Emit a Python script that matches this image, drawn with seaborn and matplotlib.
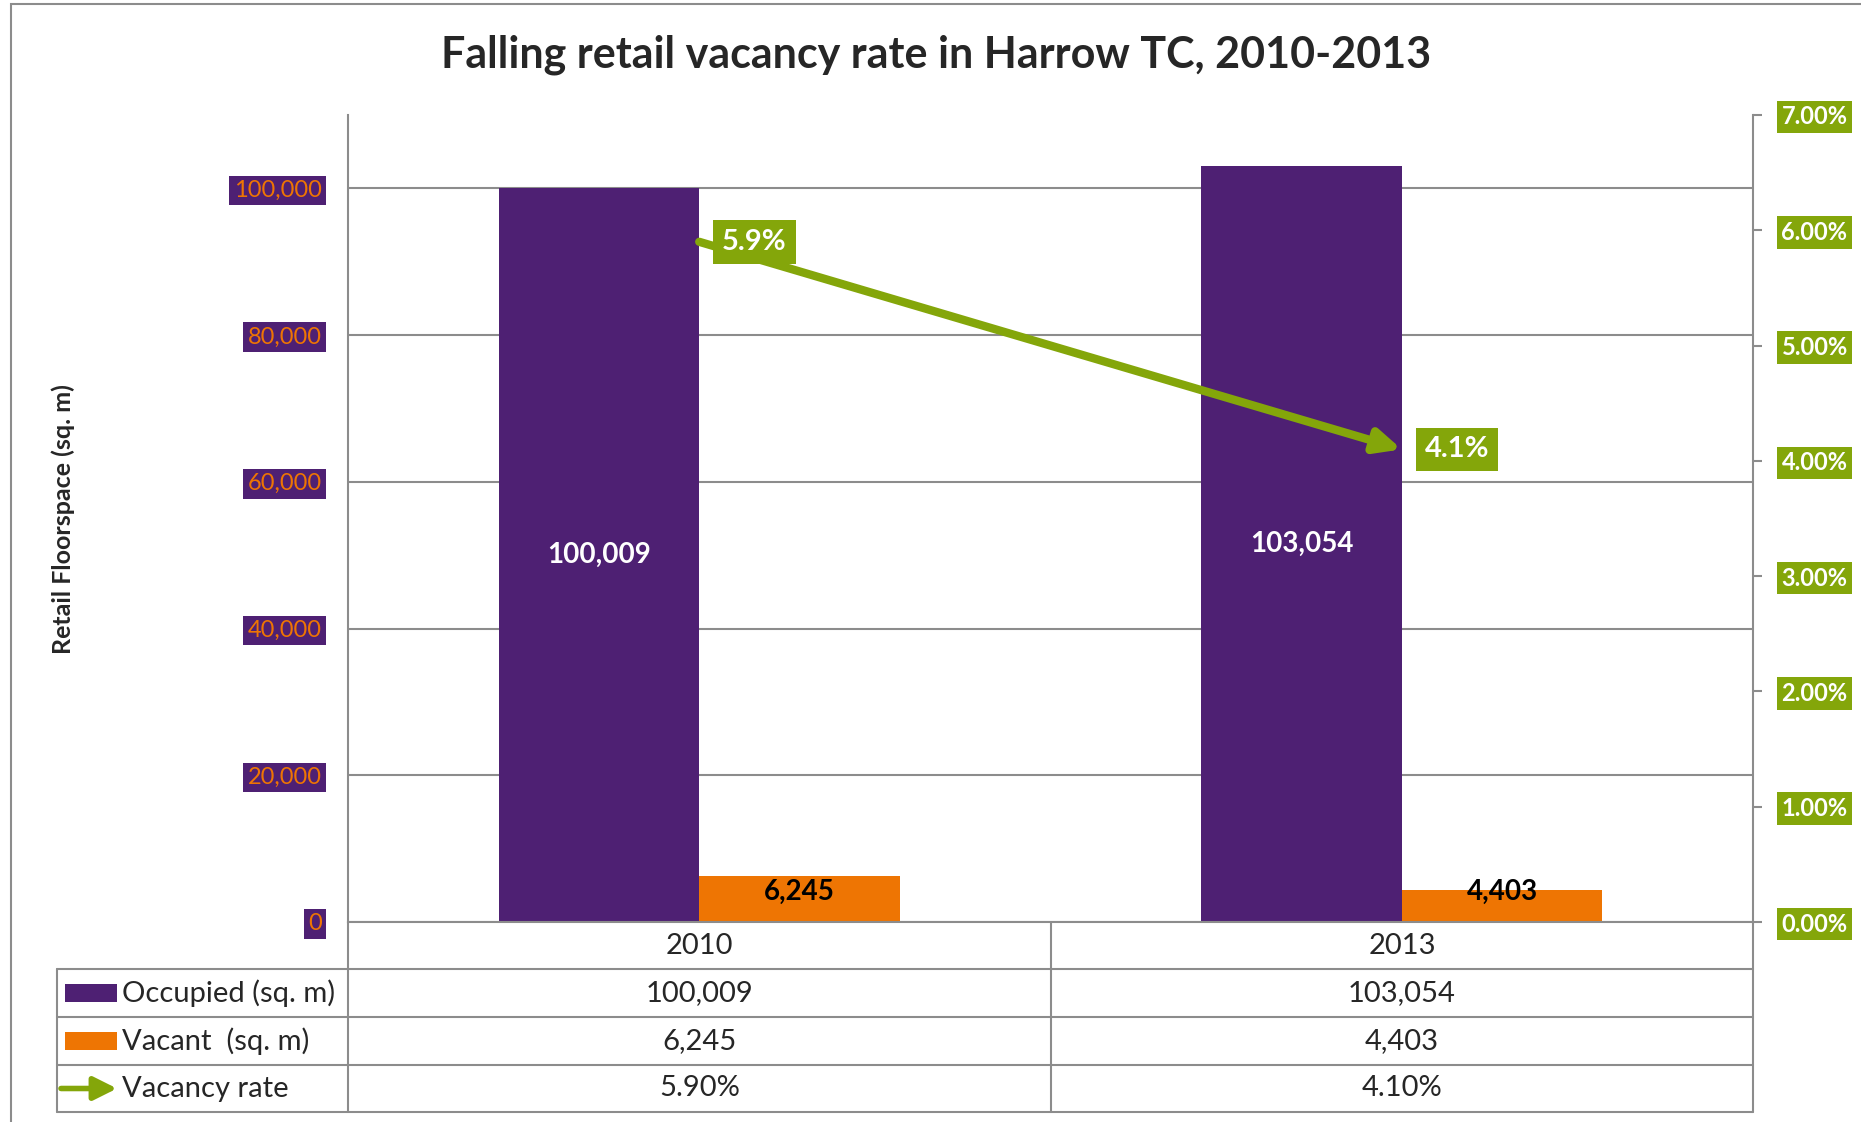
import pandas as pd
import numpy as np
import matplotlib.pyplot as plt
import seaborn as sns
from matplotlib.patches import Rectangle
from matplotlib.lines import Line2D

# Data
years = ['2010', '2013']
occupied = [100009, 103054]
vacant = [6245, 4403]
vacancy_rate = [5.9, 4.1]  # percent
series_names = ['Occupied (sq. m)', 'Vacant  (sq. m)', 'Vacancy rate']
left_ticks = [0, 20000, 40000, 60000, 80000, 100000]
right_ticks = [0, 1, 2, 3, 4, 5, 6, 7]

PURPLE = '#4E2073'
ORANGE = '#EE7503'
GREEN = '#84A60A'
GRID = '#8C8C8C'

sns.set_style('white')
plt.rcParams['font.family'] = ['Lato', 'DejaVu Sans']

df = pd.DataFrame({
    'Year': years * 2,
    'Series': [series_names[0]] * 2 + [series_names[1]] * 2,
    'Floorspace': occupied + vacant,
})

W, H = 1861, 1122
fig = plt.figure(figsize=(W / 100, H / 100), dpi=100)

# plot area in pixels
L, R, T, B = 348, 1753, 115, 922
ax = fig.add_axes([L / W, 1 - B / H, (R - L) / W, (B - T) / H])

sns.barplot(data=df, x='Year', y='Floorspace', hue='Series',
            palette=[PURPLE, ORANGE], width=0.571, gap=0, saturation=1,
            linewidth=0, legend=False, ax=ax)
ax.set_xlim(-0.5, 1.5)
ax.set_ylim(0, 110000)
ax.set_yticks(left_ticks)
ax.set_yticklabels([f'{v:,}' for v in left_ticks])
ax.yaxis.grid(True, color=GRID, lw=1.5)
ax.set_axisbelow(True)
ax.set_xlabel('')
ax.set_ylabel('')
ax.tick_params(axis='x', length=0, labelbottom=False)
ax.tick_params(axis='y', length=0, pad=19, labelsize=17, labelcolor=ORANGE)
for t in ax.get_yticklabels():
    t.set_bbox(dict(boxstyle='square,pad=0.18', fc=PURPLE, ec='none'))
for s in ['top', 'right']:
    ax.spines[s].set_visible(False)
for s in ['left', 'bottom']:
    ax.spines[s].set_color(GRID)
    ax.spines[s].set_linewidth(1.5)

# bar value labels
ax.bar_label(ax.containers[0], labels=[f'{v:,}' for v in occupied],
             label_type='center', color='white', fontweight='bold', fontsize=20)
for i, v in enumerate(vacant):
    ax.text(i + 0.571 / 4, 4150, f'{v:,}', ha='center', va='center',
            color='black', fontweight='bold', fontsize=20)

# secondary axis: vacancy rate
ax2 = ax.twinx()
ax2.set_ylim(0, 7)
ax2.set_yticks(right_ticks)
ax2.set_yticklabels([f'{v:.2f}%' for v in right_ticks])
ax2.tick_params(axis='y', length=6.5, width=1.5, color=GRID, pad=14,
                labelsize=17, labelcolor='white')
for t in ax2.get_yticklabels():
    t.set_fontweight('bold')
    t.set_bbox(dict(boxstyle='square,pad=0.2', fc=GREEN, ec='none'))
for s in ['top', 'left', 'bottom']:
    ax2.spines[s].set_visible(False)
ax2.spines['right'].set_color(GRID)
ax2.spines['right'].set_linewidth(1.5)
ax2.grid(False)

ax2.annotate('', xy=(1, vacancy_rate[1]), xytext=(0, vacancy_rate[0]),
             arrowprops=dict(arrowstyle='-|>,head_length=1.5,head_width=0.7',
                             color=GREEN, lw=6, capstyle='round',
                             shrinkA=0, shrinkB=0))
for i, r in enumerate(vacancy_rate):
    ax2.annotate(f'{r:.1f}%', xy=(i, r), xytext=(16.5, 0),
                 textcoords='offset points', ha='left', va='center',
                 color='white', fontweight='bold', fontsize=21,
                 bbox=dict(boxstyle='square,pad=0.3', fc=GREEN, ec='none'))

# title and axis label
fig.text(0.503, 1 - 55 / H, 'Falling retail vacancy rate in Harrow TC, 2010-2013',
         ha='center', va='center', fontsize=31, fontweight='bold')
fig.text(63 / W, 1 - 519 / H, 'Retail Floorspace (sq. m)', rotation=90,
         ha='center', va='center', fontsize=18, fontweight='bold')

# data table under the chart (pixel coordinates)
tab = fig.add_axes([0, 0, 1, 1], zorder=-1)
tab.set_xlim(0, W)
tab.set_ylim(H, 0)
tab.axis('off')
rows = [969, 1017, 1065, 1112]
TL, MID = 57, 1051
lk = dict(color=GRID, lw=1.5)
for y in rows:
    tab.add_line(Line2D([TL, R], [y, y], **lk))
for x in [L, MID, R]:
    tab.add_line(Line2D([x, x], [B, rows[-1]], **lk))
tab.add_line(Line2D([TL, TL], [rows[0], rows[-1]], **lk))

col_x = [(L + MID) / 2, (MID + R) / 2]
for cx, yr in zip(col_x, years):
    tab.text(cx, (B + rows[0]) / 2, yr, ha='center', va='center', fontsize=21)
table_vals = [
    [f'{v:,}' for v in occupied],
    [f'{v:,}' for v in vacant],
    [f'{v:.2f}%' for v in vacancy_rate],
]
for r, vals in enumerate(table_vals):
    cy = (rows[r] + rows[r + 1]) / 2
    for cx, s in zip(col_x, vals):
        tab.text(cx, cy, s, ha='center', va='center', fontsize=21)
    tab.text(122, cy, series_names[r], ha='left', va='center', fontsize=21)
    if r < 2:
        tab.add_patch(Rectangle((65, cy - 9), 52, 18,
                                fc=[PURPLE, ORANGE][r], ec='none'))
    else:
        tab.annotate('', xy=(117, cy), xytext=(61, cy),
                     arrowprops=dict(arrowstyle='-|>,head_length=1.4,head_width=0.7',
                                     color=GREEN, lw=4, capstyle='round',
                                     shrinkA=0, shrinkB=0))

# outer chart frame
fig.add_artist(Rectangle((11 / W, -0.1), 1.0, 1.1 - 4 / H,
                         transform=fig.transFigure, fill=False, ec=GRID, lw=1.5))

fig.savefig('out.png', dpi=100)
